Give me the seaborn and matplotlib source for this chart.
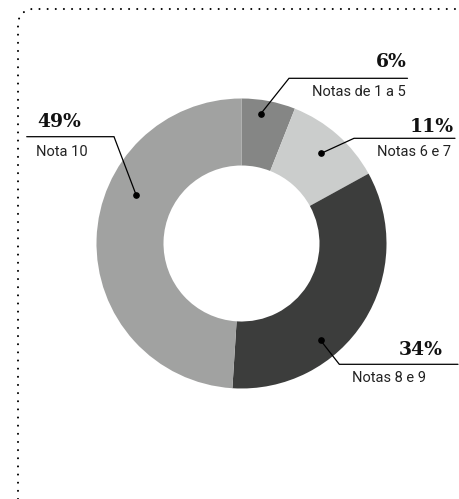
import numpy as np
import matplotlib
matplotlib.use("Agg")
import matplotlib.pyplot as plt
from matplotlib import font_manager
from matplotlib.path import Path
from matplotlib.patches import PathPatch
import seaborn as sns

# Data
categories = ["Notas de 1 a 5", "Notas 6 e 7", "Notas 8 e 9", "Nota 10"]
shares = [6, 11, 34, 49]
pct_labels = ["6%", "11%", "34%", "49%"]

# Styling
colors = ["#858685", "#cbcdcc", "#3c3d3c", "#a1a2a1"]
center = (241.5, 243.5)
outer_r = 145
ring_w = 67

# leader: where the dot sits inside the wedge (fraction along arc, radius px)
dot_frac = [0.39, 0.50, 0.65, 0.63]
dot_rad = [131, 120, 125, 116]
# elbow point, end of the horizontal rule, side of the text
elbows = [(289, 78.3), (354, 138.3), (339.3, 364.3), (114, 136.7)]
rule_end = [407.5, 455, 458, 26.7]
pct_pos = [(406.5, 66.5), (454, 131.5), (442.5, 355), (37.5, 126.5)]
name_pos = [(405.5, 96), (451, 156.5), (425.5, 381.5), (36.5, 155.5)]
align = ["right", "right", "right", "left"]

sns.set_theme(style="white")
installed = {f.name for f in font_manager.fontManager.ttflist}
if "Liberation Sans Narrow" in installed:
    label_font, label_size = "Liberation Sans Narrow", 11.5
else:
    label_font, label_size = "Roboto", 10.5
plt.rcParams["font.family"] = [label_font, "DejaVu Sans"]

fig = plt.figure(figsize=(4.59, 4.99), dpi=100)
ax = fig.add_axes([0, 0, 1, 1])

# y axis runs downward, so start at -90 and go counterclockwise in data terms
wedges, _ = ax.pie(shares, colors=colors, startangle=-90, counterclock=True,
                   radius=outer_r, center=center,
                   wedgeprops=dict(width=ring_w, linewidth=0))

ax.set_xlim(0, 459)
ax.set_ylim(499, 0)
ax.set_aspect("auto")
ax.axis("off")

for i, w in enumerate(wedges):
    ang = np.deg2rad(w.theta1 + dot_frac[i] * (w.theta2 - w.theta1))
    dx = center[0] + dot_rad[i] * np.cos(ang)
    dy = center[1] + dot_rad[i] * np.sin(ang)
    ex, ey = elbows[i]
    ax.plot([dx, ex, rule_end[i]], [dy, ey, ey], color="black", lw=0.9,
            solid_joinstyle="miter")
    ax.plot(dx, dy, "o", color="black", ms=3.8)
    ax.text(*pct_pos[i], pct_labels[i], ha=align[i], va="baseline",
            family="DejaVu Serif", fontweight="bold", fontsize=13.5,
            color="#111111")
    ax.text(*name_pos[i], categories[i], ha=align[i], va="baseline",
            fontsize=label_size, color="#222222")

# dotted frame along top and left with a rounded corner
k = 0.5523
verts = [(18, 499), (18, 24), (18, 24 - 15 * k), (33 - 15 * k, 9), (33, 9), (459, 9)]
codes = [Path.MOVETO, Path.LINETO, Path.CURVE4, Path.CURVE4, Path.CURVE4, Path.LINETO]
frame = PathPatch(Path(verts, codes), fill=False, edgecolor="black", lw=1.5,
                  linestyle=(0, (0.01, 3.9)), capstyle="round")
ax.add_patch(frame)

fig.savefig("out.png", dpi=100)
